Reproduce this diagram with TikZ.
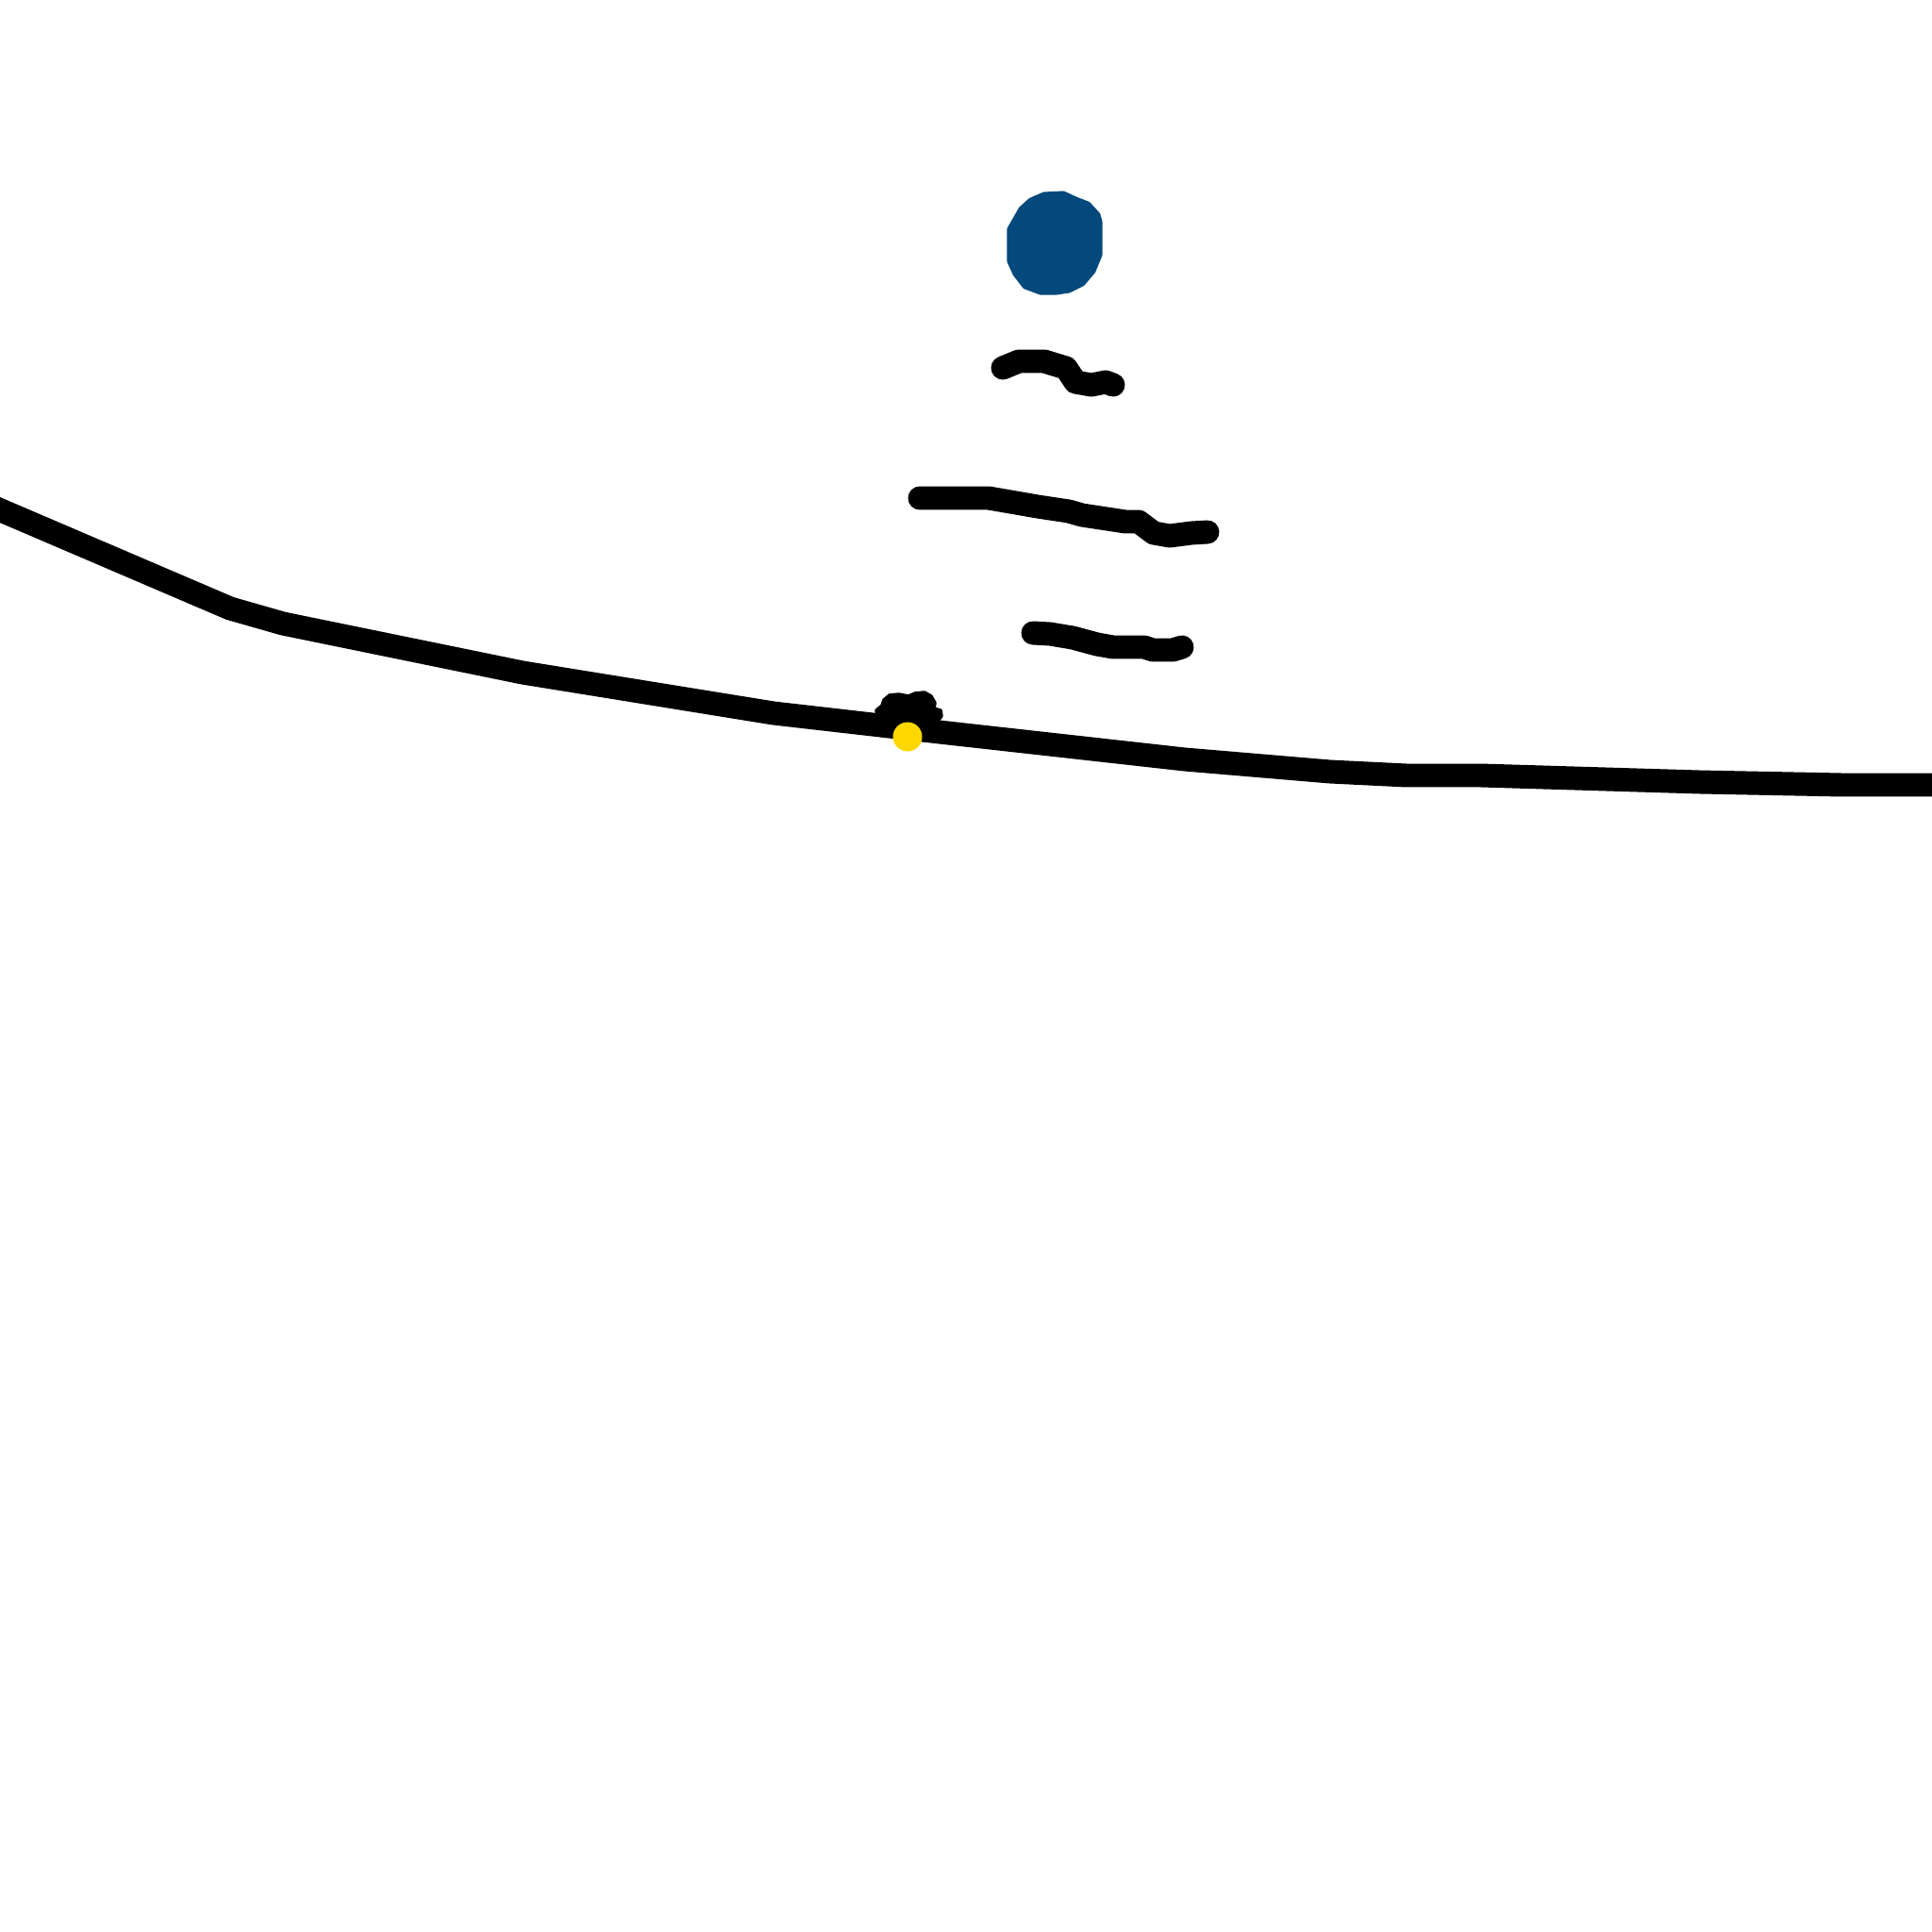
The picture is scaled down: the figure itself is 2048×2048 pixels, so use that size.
\documentclass[tikz,border=0pt]{standalone}
\definecolor{blobblue}{RGB}{4,73,124}
\definecolor{dotyellow}{RGB}{255,215,0}
\tikzset{
  inkline/.style={draw=black, line width=7.1pt, line cap=round, line join=round},
  thinink/.style={draw=black, line width=7.1pt, line cap=round, line join=round},
  blobfill/.style={fill=blobblue, draw=blobblue, line width=2pt, line join=round},
}
\begin{document}
\begin{tikzpicture}[x=0.01cm, y=-0.01cm]
\useasboundingbox (0,0) rectangle (2048,2048);
\fill[white] (0,0) rectangle (2048,2048);
% main ground line
\draw[inkline, line cap=butt] (-20,532) -- (244,645) -- (300,661) -- (554,713) -- (820,756) -- (960,772) -- (1256,805) -- (1410,818) -- (1491,822) -- (1570,822) -- (1802,829) -- (1953,832) -- (2070,832);
% blue blob
\path[blobfill] (1071,243) -- (1083,222) -- (1093,213) -- (1107,207) -- (1127,206) -- (1140,212) -- (1153,217) -- (1163,228) -- (1165,235) -- (1165,270) -- (1158,287) -- (1147,300) -- (1133,307) -- (1120,309) -- (1103,309) -- (1087,303) -- (1077,290) -- (1071,277) -- cycle;
% stroke 1
\draw[thinink] (1063,390) -- (1080,383) -- (1107,383) -- (1120,387) -- (1130,390) -- (1140,405) -- (1157,408) -- (1172,405) -- (1180,408);
% stroke 2
\draw[thinink] (975,528) -- (1048,528) -- (1077,533) -- (1100,537) -- (1133,542) -- (1147,546) -- (1193,553) -- (1207,553) -- (1223,565) -- (1240,568) -- (1263,565) -- (1280,564);
% stroke 3
\draw[thinink] (1095,671) -- (1113,672) -- (1137,676) -- (1163,683) -- (1180,686) -- (1213,686) -- (1222,689) -- (1243,689) -- (1253,686);
% small black tuft
\fill[black, draw=black, line width=1pt, line join=round] (929,753) -- (935,748) -- (937,742) -- (943,737) -- (953,736) -- (963,738) -- (970,735) -- (980,734) -- (987,738) -- (991,745) -- (990,751) -- (997,753) -- (998,759) -- (995,763) -- (977,765) -- (950,765) -- (930,760) -- cycle;
% yellow dot
\fill[dotyellow] (962,781) circle (15.5);
\end{tikzpicture}
\end{document}
